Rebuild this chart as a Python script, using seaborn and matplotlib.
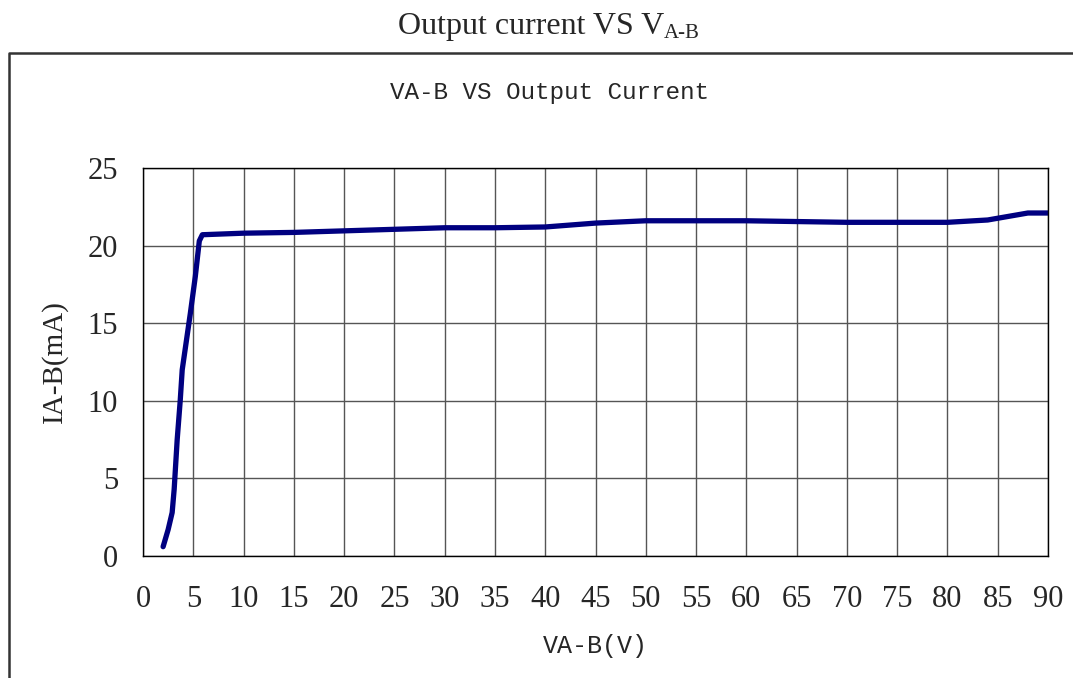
import matplotlib
matplotlib.use("Agg")
import matplotlib.pyplot as plt
from matplotlib.lines import Line2D
import seaborn as sns
import pandas as pd

# V_A-B (V) vs I_A-B (mA)
v_ab = [2.0, 2.5, 2.9, 3.1, 3.4, 3.7, 3.9, 4.3, 4.7, 5.2, 5.6, 5.9, 10, 15, 20,
        25, 30, 35, 40, 45, 50, 55, 60, 65, 70, 75, 80, 84, 88, 90]
i_ab = [0.6, 1.7, 2.8, 4.3, 7.5, 10.0, 12.0, 13.8, 15.6, 18.0, 20.3, 20.7, 20.8,
        20.85, 20.95, 21.05, 21.15, 21.15, 21.2, 21.45, 21.6, 21.6, 21.6, 21.55,
        21.5, 21.5, 21.5, 21.65, 22.1, 22.1]
x_ticks = list(range(0, 95, 5))
y_ticks = list(range(0, 30, 5))

sns.set_style("white")
plt.rcParams['font.family'] = ['Liberation Serif', 'DejaVu Serif']

fig = plt.figure(figsize=(10.73, 6.78), dpi=100)
ax = fig.add_axes([143 / 1073, 1 - 556 / 678, (1048 - 143) / 1073, (556 - 168) / 678])

df = pd.DataFrame({"V": v_ab, "I": i_ab})
sns.lineplot(data=df, x="V", y="I", ax=ax, color="#000080", lw=3.8,
             estimator=None, sort=False)

ax.set_xlim(0, 90)
ax.set_ylim(0, 25)
ax.set_xticks(x_ticks)
ax.set_yticks(y_ticks)
ax.grid(True, color="#555555", lw=1.0)
for s in ax.spines.values():
    s.set_color("black")
    s.set_linewidth(1.0)
ax.tick_params(length=0, labelsize=22)
ax.tick_params(axis="x", pad=21)
ax.tick_params(axis="y", pad=18)

ax.set_xlabel("VA-B(V)", family="Liberation Mono", fontsize=18, labelpad=14)
ax.set_ylabel("IA-B(mA)", fontsize=21, labelpad=14)

# inner chart title
fig.text(549 / 1073, 1 - 92 / 678, "VA-B VS Output Current", family="Liberation Mono",
         fontsize=17.5, ha="center", va="center")

# outer frame (left and top edges only visible)
fig.add_artist(Line2D([9 / 1073, 9 / 1073, 1.0], [0.0, 1 - 53 / 678, 1 - 53 / 678],
                      transform=fig.transFigure, color="#333333", lw=1.8))

# figure title with subscript
t = fig.text(398 / 1073, 1 - 34 / 678, "Output current VS V", fontsize=23,
             ha="left", va="baseline")
fig.canvas.draw()
bb = t.get_window_extent()
fig.text(bb.x1 / fig.bbox.width, 1 - 38 / 678, "A-B", fontsize=15,
         ha="left", va="baseline")

fig.savefig("out.png", dpi=100)
